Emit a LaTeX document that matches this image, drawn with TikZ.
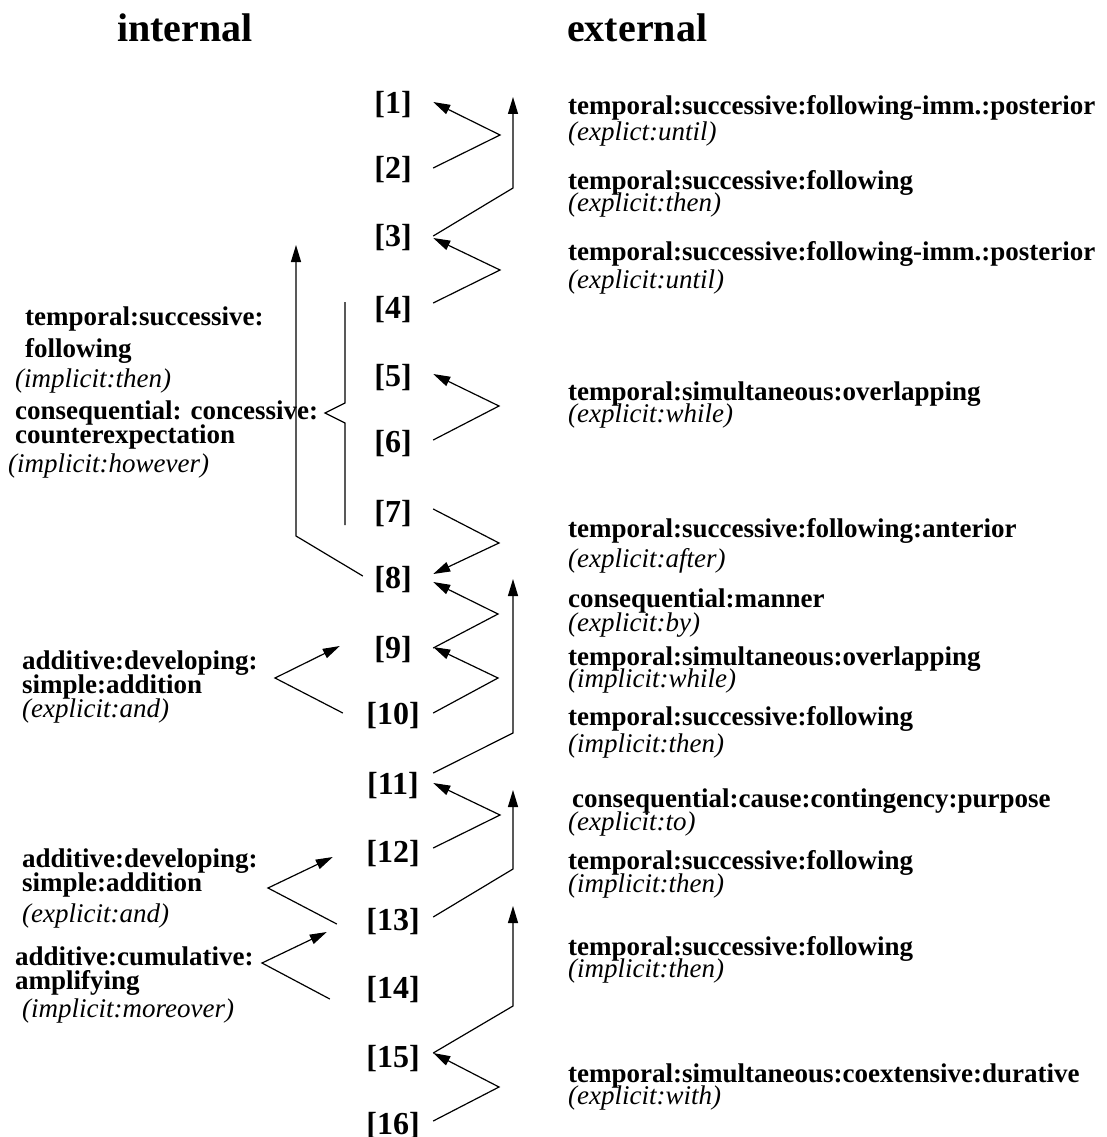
\documentclass[tikz,border=0pt]{standalone}
\usepackage{fontspec}
\setmainfont{Liberation Serif}
\usetikzlibrary{arrows.meta,calc}
\begin{document}
\begin{tikzpicture}[x=1pt,y=-1pt,
  seg/.style={font=\fontsize{32}{36}\selectfont\bfseries, minimum width=80pt, inner sep=0pt, anchor=center},
  rel/.style={font=\fontsize{27}{30}\selectfont\bfseries, anchor=base west, inner sep=0pt},
  cue/.style={font=\fontsize{27}{30}\selectfont\itshape, anchor=base west, inner sep=0pt},
  heading/.style={font=\fontsize{40}{44}\selectfont\bfseries, anchor=base west, inner sep=0pt},
  link/.style={line width=1.2pt},
  arr/.style={line width=1.2pt, -{Triangle[length=17pt,width=10pt]}},
]
\useasboundingbox (0,0) rectangle (1106,1137);

% column headings
\node[heading] (hint) at (117,42) {internal};
\node[heading] (hext) at (567,42) {external};

% text segments
\foreach \i/\yy in {1/105,2/170,3/238,4/310,5/378,6/444,7/514,8/580,9/650,10/716,11/786,12/854,13/922,14/990,15/1059,16/1126}
  \node[seg] (n\i) at (393,\yy) {[\i]};

% turning points of the external relations
\coordinate (a1) at (500,135);
\coordinate (a2) at (500,270);
\coordinate (a3) at (499,406);
\coordinate (a4) at (499,543);
\coordinate (a5) at (498,614);
\coordinate (a6) at (498,678);
\coordinate (a7) at (500,815);
\coordinate (a8) at (499,1087);

% corners and tops of the spanning relations
\coordinate (c1) at (513,188);  \coordinate (u1) at (513,97);
\coordinate (c2) at (513,733);  \coordinate (u2) at (513,579);
\coordinate (c3) at (513,869);  \coordinate (u3) at (513,790);
\coordinate (c4) at (513,1006); \coordinate (u4) at (513,906);

% external relations between neighbouring segments
\draw[arr] ($(n2.east)+(0,-2)$) -- (a1) -- ($(n1.east)+(0,-3)$);
\draw[arr] ($(n4.east)+(0,-7)$) -- (a2) -- (n3.east);
\draw[arr] ($(n6.east)+(0,-4)$) -- (a3) -- ($(n5.east)+(0,-4)$);
\draw[arr] ($(n7.east)+(0,-5)$) -- (a4) -- ($(n8.east)+(0,-6)$);
\draw[arr] ($(n9.east)+(0,-2)$) -- (a5) -- ($(n8.east)+(0,2)$);
\draw[arr] ($(n10.east)+(0,-3)$) -- (a6) -- ($(n9.east)+(0,-3)$);
\draw[arr] ($(n12.east)+(0,-6)$) -- (a7) -- ($(n11.east)+(0,-3)$);
\draw[arr] ($(n16.east)+(0,-5)$) -- (a8) -- ($(n15.east)+(0,-6)$);

% external relations reaching back over a span
\draw[arr] ($(n3.east)+(0,-2)$) -- (c1) -- (u1);
\draw[arr] ($(n11.east)+(0,-13)$) -- (c2) -- (u2);
\draw[arr] ($(n13.east)+(0,-5)$) -- (c3) -- (u3);
\draw[arr] ($(n15.east)+(0,-6)$) -- (c4) -- (u4);

% internal relations
\coordinate (k1) at (296,536); \coordinate (k2) at (296,245);
\draw[arr] ($(n8.west)+(10,-4)$) -- (k1) -- (k2);

\coordinate (br1) at (345,302); \coordinate (br2) at (345,403);
\coordinate (br3) at (325,413); \coordinate (br4) at (345,423);
\coordinate (br5) at (345,525);
\draw[link] (br1) -- (br2) -- (br3) -- (br4) -- (br5);

\coordinate (b1) at (275,678);
\coordinate (b2) at (268,888);
\coordinate (b3) at (262,963);
\draw[arr] ($(n10.west)+(-10,-3)$) -- (b1) -- ($(n9.west)+(-13,-4)$);
\draw[arr] ($(n13.west)+(-16,2)$) -- (b2) -- ($(n12.west)+(-20,3)$);
\draw[arr] ($(n14.west)+(-23,9)$) -- (b3) -- ($(n13.west)+(-26,10)$);

% labels of the external relations
\node[rel] (t1a) at (568,114) {temporal:successive:following-imm.:posterior};
\node[cue] (t1b) at (568,140) {(explict:until)};
\node[rel] (t2a) at (568,189) {temporal:successive:following};
\node[cue] (t2b) at (568,211) {(explicit:then)};
\node[rel] (t3a) at (568,260) {temporal:successive:following-imm.:posterior};
\node[cue] (t3b) at (568,288) {(explicit:until)};
\node[rel] (t4a) at (568,400) {temporal:simultaneous:overlapping};
\node[cue] (t4b) at (568,422) {(explicit:while)};
\node[rel] (t5a) at (568,537) {temporal:successive:following:anterior};
\node[cue] (t5b) at (568,567) {(explicit:after)};
\node[rel] (t6a) at (568,607) {consequential:manner};
\node[cue] (t6b) at (568,631) {(explicit:by)};
\node[rel] (t7a) at (568,665) {temporal:simultaneous:overlapping};
\node[cue] (t7b) at (568,687) {(implicit:while)};
\node[rel] (t8a) at (568,725) {temporal:successive:following};
\node[cue] (t8b) at (568,752) {(implicit:then)};
\node[rel] (t9a) at (572,807) {consequential:cause:contingency:purpose};
\node[cue] (t9b) at (568,830) {(explicit:to)};
\node[rel] (t10a) at (568,869) {temporal:successive:following};
\node[cue] (t10b) at (568,892) {(implicit:then)};
\node[rel] (t11a) at (568,955) {temporal:successive:following};
\node[cue] (t11b) at (568,977) {(implicit:then)};
\node[rel] (t12a) at (568,1082) {temporal:simultaneous:coextensive:durative};
\node[cue] (t12b) at (568,1104) {(explicit:with)};

% labels of the internal relations
\node[rel] (l1a) at (25,325) {temporal:successive:};
\node[rel] (l1b) at (25,357) {following};
\node[cue] (l1c) at (15,387) {(implicit:then)};
\node[rel] (l2a) at (15,419) {consequential: concessive:};
\node[rel] (l2b) at (15,443) {counterexpectation};
\node[cue] (l2c) at (8,472) {(implicit:however)};
\node[rel] (l3a) at (22,669) {additive:developing:};
\node[rel] (l3b) at (22,693) {simple:addition};
\node[cue] (l3c) at (22,717) {(explicit:and)};
\node[rel] (l4a) at (22,867) {additive:developing:};
\node[rel] (l4b) at (22,891) {simple:addition};
\node[cue] (l4c) at (22,922) {(explicit:and)};
\node[rel] (l5a) at (15,965) {additive:cumulative:};
\node[rel] (l5b) at (15,989) {amplifying};
\node[cue] (l5c) at (22,1017) {(implicit:moreover)};
\end{tikzpicture}
\end{document}
